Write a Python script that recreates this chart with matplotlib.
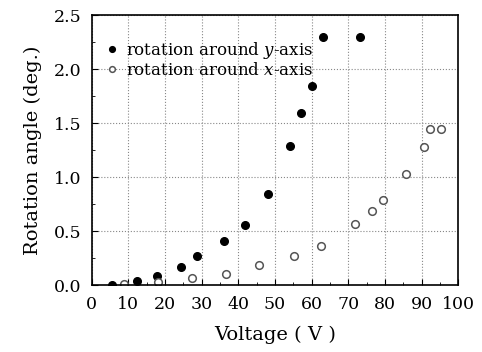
import numpy as np
import matplotlib
matplotlib.use("Agg")
import matplotlib.pyplot as plt
from matplotlib.ticker import MultipleLocator

# rotation around y-axis (filled)
volt_y = [5.7, 12.3, 17.8, 24.3, 28.8, 36.1, 41.7, 48.2, 54.2, 57.2, 60.2, 63.2, 73.2]
rot_y = [0.005, 0.04, 0.085, 0.165, 0.27, 0.41, 0.56, 0.84, 1.29, 1.59, 1.84, 2.30, 2.30]

# rotation around x-axis (open)
volt_x = [8.9, 18.2, 27.4, 36.6, 45.6, 55.1, 62.5, 71.8, 76.5, 79.5, 85.7, 90.5, 92.3, 95.2]
rot_x = [0.01, 0.025, 0.065, 0.105, 0.185, 0.27, 0.365, 0.565, 0.69, 0.79, 1.03, 1.28, 1.45, 1.45]

plt.rcParams['font.family'] = ['DejaVu Serif']
plt.rcParams['mathtext.fontset'] = 'dejavuserif'

fig = plt.figure(figsize=(4.82, 3.52), dpi=100)
ax = fig.add_axes([0.19, 0.19, 0.761, 0.767])

ax.plot(volt_y, rot_y, 'o', color='black', markersize=5.5, label='rotation around $y$-axis')
ax.plot(volt_x, rot_x, 'o', markerfacecolor='white', markeredgecolor='#555555',
        markeredgewidth=1.1, markersize=5.5, label='rotation around $x$-axis')

ax.set_xlim(0, 100)
ax.set_ylim(0, 2.5)
ax.xaxis.set_major_locator(MultipleLocator(10))
ax.xaxis.set_minor_locator(MultipleLocator(5))
ax.yaxis.set_major_locator(MultipleLocator(0.5))
ax.yaxis.set_minor_locator(MultipleLocator(0.25))
ax.yaxis.set_major_formatter(plt.FormatStrFormatter('%.1f'))
ax.tick_params(which='both', direction='in', labelsize=12.5)
ax.tick_params(axis='x', which='major', pad=8)
ax.tick_params(axis='y', which='major', pad=7)
ax.tick_params(which='major', length=4)
ax.tick_params(which='minor', length=2.5)
ax.grid(True, which='major', linestyle=':', color='#888888', linewidth=0.8)

for s in ax.spines.values():
    s.set_linewidth(1.2)

ax.set_xlabel('Voltage ( V )', fontsize=14, labelpad=9)
ax.set_ylabel('Rotation angle (deg.)', fontsize=14, labelpad=9)

ax.legend(loc='upper left', bbox_to_anchor=(0.0, 0.95), frameon=False, fontsize=12,
          handletextpad=0.35, borderaxespad=0.3, labelspacing=0.05, handlelength=1.0,
          markerscale=0.75)

fig.savefig('out.png', dpi=100)
